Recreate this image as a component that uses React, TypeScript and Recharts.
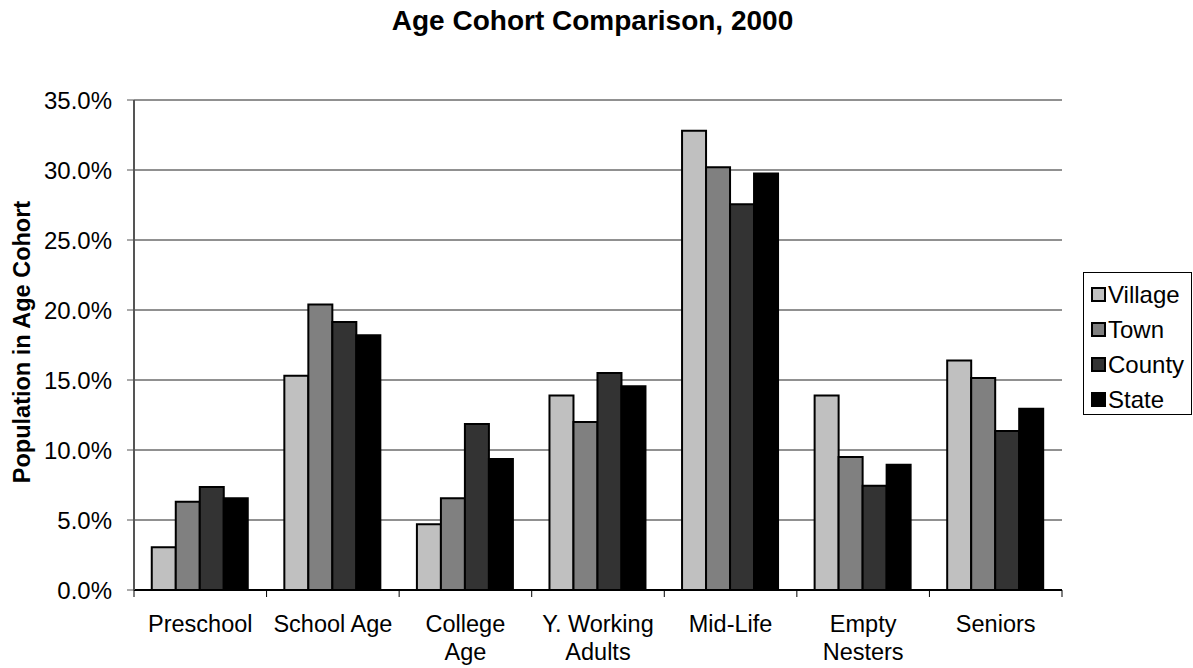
import { Bar, BarChart, CartesianGrid, XAxis, YAxis } from 'recharts';

const CATEGORIES = [
  'Preschool',
  'School Age',
  'College\nAge',
  'Y. Working\nAdults',
  'Mid-Life',
  'Empty\nNesters',
  'Seniors',
];
const VILLAGE = [3.05, 15.3, 4.7, 13.9, 32.8, 13.9, 16.4];
const TOWN = [6.3, 20.4, 6.55, 12.0, 30.2, 9.5, 15.15];
const COUNTY = [7.35, 19.15, 11.85, 15.5, 27.55, 7.45, 11.35];
const STATE = [6.55, 18.2, 9.35, 14.55, 29.75, 8.95, 12.95];
const Y_TICKS = [0, 5, 10, 15, 20, 25, 30, 35];

const SERIES = [
  { key: 'village', name: 'Village', color: '#c0c0c0', values: VILLAGE },
  { key: 'town', name: 'Town', color: '#808080', values: TOWN },
  { key: 'county', name: 'County', color: '#333333', values: COUNTY },
  { key: 'state', name: 'State', color: '#000000', values: STATE },
];

const data = CATEGORIES.map((label, i) => {
  const row: Record<string, string | number> = { label };
  SERIES.forEach((s) => {
    row[s.key] = s.values[i];
  });
  return row;
});

const W = 1193;
const H = 668;
const FONT = '"Liberation Sans", Arial, sans-serif';
const PLOT_LEFT = 134;
const PLOT_RIGHT = 1062;
const BAND = (PLOT_RIGHT - PLOT_LEFT) / CATEGORIES.length;

function CategoryTick(props: any) {
  const { x, y, payload, index } = props;
  const lines = String(payload.value).split('\n');
  const left = x - BAND / 2;
  const right = x + BAND / 2;
  return (
    <g>
      <line x1={left} x2={left} y1={y - 7} y2={y} stroke="#000" strokeWidth={1} />
      {index === CATEGORIES.length - 1 && (
        <line x1={right} x2={right} y1={y - 7} y2={y} stroke="#000" strokeWidth={1} />
      )}
      <text x={x} y={y + 35} textAnchor="middle" fill="#000" fontSize={23.5} fontFamily={FONT}>
        {lines.map((ln, i) => (
          <tspan key={i} x={x} dy={i === 0 ? 0 : 28}>
            {ln}
          </tspan>
        ))}
      </text>
    </g>
  );
}

function YTitle() {
  return (
    <text
      transform="rotate(-90)"
      x={-342}
      y={22}
      textAnchor="middle"
      dominantBaseline="central"
      fontSize={23.5}
      fontWeight="bold"
      fontFamily={FONT}
      fill="#000"
    >
      Population in Age Cohort
    </text>
  );
}

export default function App() {
  return (
    <div
      style={{
        position: 'absolute',
        left: 0,
        top: 0,
        width: W,
        height: H,
        background: '#fff',
        fontFamily: FONT,
      }}
    >
      <div
        style={{
          position: 'absolute',
          left: 0,
          top: 5,
          width: 1185,
          textAlign: 'center',
          fontSize: 28,
          fontWeight: 'bold',
          color: '#000',
        }}
      >
        Age Cohort Comparison, 2000
      </div>
      <BarChart
        width={W}
        height={H}
        data={data}
        margin={{ top: 100, right: W - PLOT_RIGHT, bottom: 0, left: 0 }}
        barCategoryGap="13.4%"
        barGap={0}
      >
        <CartesianGrid vertical={false} stroke="#222" strokeWidth={1} />
        <XAxis
          dataKey="label"
          height={78}
          interval={0}
          tickSize={7}
          tickMargin={0}
          tickLine={false}
          axisLine={{ stroke: '#000', strokeWidth: 2 }}
          tick={<CategoryTick />}
        />
        <XAxis
          xAxisId="top"
          orientation="top"
          dataKey="label"
          height={0}
          tick={false}
          tickLine={false}
          axisLine={{ stroke: '#888', strokeWidth: 2 }}
        />
        <YAxis
          width={PLOT_LEFT}
          domain={[0, 35]}
          ticks={Y_TICKS}
          interval={0}
          tickSize={7}
          tickMargin={15}
          tickFormatter={(v: number) => `${v.toFixed(1)}%`}
          tick={{ fill: '#000', fontSize: 24, fontFamily: FONT }}
          tickLine={{ stroke: '#555', strokeWidth: 1 }}
          axisLine={{ stroke: '#555', strokeWidth: 2 }}
          label={{ content: () => <YTitle /> }}
        />
        <YAxis
          yAxisId="right"
          orientation="right"
          width={0}
          domain={[0, 35]}
          tick={false}
          tickLine={false}
          axisLine={{ stroke: '#888', strokeWidth: 2 }}
        />
        {SERIES.map((s) => (
          <Bar
            key={s.key}
            dataKey={s.key}
            name={s.name}
            fill={s.color}
            stroke="#000"
            strokeWidth={2}
            isAnimationActive={false}
          />
        ))}
      </BarChart>
      <div
        style={{
          position: 'absolute',
          left: 1083,
          top: 272,
          width: 109,
          height: 143,
          border: '1px solid #000',
          boxSizing: 'border-box',
          paddingTop: 4,
        }}
      >
        {SERIES.map((s) => (
          <div
            key={s.key}
            style={{ display: 'flex', alignItems: 'center', height: 35, paddingLeft: 7, fontSize: 24 }}
          >
            <span
              style={{
                display: 'inline-block',
                width: 15,
                height: 15,
                background: s.color,
                border: '2px solid #000',
                boxSizing: 'border-box',
                marginRight: 2,
              }}
            />
            <span>{s.name}</span>
          </div>
        ))}
      </div>
    </div>
  );
}
